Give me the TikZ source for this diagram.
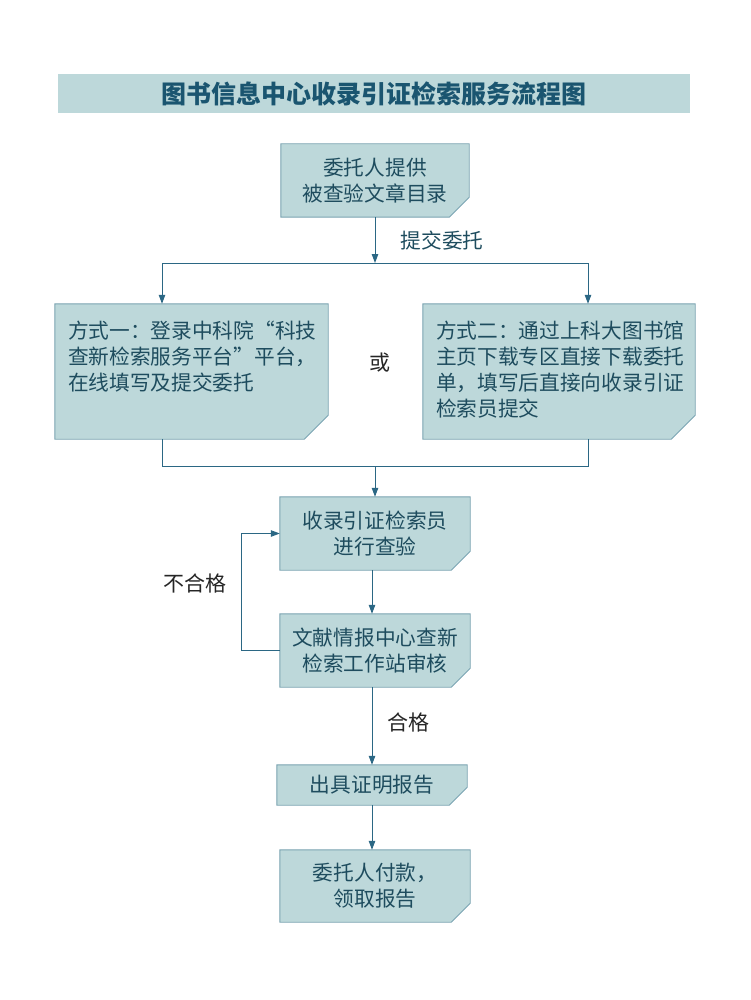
\documentclass[tikz,border=0pt]{standalone}
\usepackage{fontspec}
\newfontfamily\cjk{Noto Sans CJK SC}
\usetikzlibrary{arrows.meta,backgrounds}
\definecolor{boxfill}{HTML}{BDD8DA}
\definecolor{boxline}{HTML}{79A3B1}
\definecolor{linkc}{HTML}{2B6784}
\definecolor{txtc}{HTML}{1E4C5E}
\definecolor{titlec}{HTML}{1A5570}
\tikzset{
  boxtext/.style={font=\cjk\fontsize{20.7}{26}\selectfont, text=txtc, inner sep=0pt, align=center},
  boxnode/.style={boxtext, draw=none, fill=none},
  cutshape/.style={fill=boxfill, draw=boxline, line width=0.9pt},
  link/.style={draw=linkc, line width=1pt},
  arr/.style={link, -{Triangle[length=9pt,width=6.5pt]}},
  lbl/.style={font=\cjk\fontsize{21}{24}\selectfont, text=black!85, inner sep=0pt},
}
\newcommand\cutpoly[2]{% node name, chamfer
  \path[cutshape] (#1.north west) -- (#1.north east) -- ([yshift=#2]#1.south east)
    -- ([xshift=-#2]#1.south east) -- (#1.south west) -- cycle;}
\begin{document}
\begin{tikzpicture}[x=1pt,y=-1pt]
\useasboundingbox (0,0) rectangle (750,1000);
% title
\node[inner sep=0pt, minimum width=632pt, minimum height=39pt, fill=boxfill,
      font=\cjk\bfseries\fontsize{25}{28}\selectfont, text=titlec] (title) at (374,93.5)
      {图书信息中心收录引证检索服务流程图};
% boxes
\node[boxnode, minimum width=188pt, minimum height=73pt] (b1) at (375,180.5)
  {委托人提供\\被查验文章目录};
\node[boxnode, minimum width=273pt, minimum height=135pt] (L) at (191.5,371.5) {};
\node[boxtext, anchor=north west, align=left] (Lt) at ([xshift=13pt,yshift=-17pt]L.north west)
  {方式一：登录中科院“科技\\查新检索服务平台”平台，\\在线填写及提交委托};
\node[boxnode, minimum width=272pt, minimum height=135pt] (R) at (559,371.5) {};
\node[boxtext, anchor=north west, align=left] (Rt) at ([xshift=13pt,yshift=-17pt]R.north west)
  {方式二：通过上科大图书馆\\主页下载专区直接下载委托\\单，填写后直接向收录引证\\检索员提交};
\node[boxnode, minimum width=190pt, minimum height=73pt] (b3) at (375,533.5)
  {收录引证检索员\\进行查验};
\node[boxnode, minimum width=190pt, minimum height=73pt] (b4) at (375,650.5)
  {文献情报中心查新\\检索工作站审核};
\node[boxnode, minimum width=190pt, minimum height=40pt] (b5) at (372,785)
  {出具证明报告};
\node[boxnode, minimum width=190pt, minimum height=72pt] (b6) at (375,886)
  {委托人付款，\\领取报告};
% shapes behind
\begin{scope}[on background layer]
  \cutpoly{b1}{20pt}
  \cutpoly{L}{24pt}
  \cutpoly{R}{24pt}
  \cutpoly{b3}{19pt}
  \cutpoly{b4}{19pt}
  \cutpoly{b5}{18pt}
  \cutpoly{b6}{19pt}
\end{scope}
% labels
\node[boxtext] (tj) at (442,241) {提交委托};
\node[lbl] (huo) at (380,363) {或};
\node[lbl] (bhg) at (195,583) {不合格};
\node[lbl] (hg) at (408,722) {合格};
% coordinates
\coordinate (split) at (375,263);
\coordinate (sl) at (162,263);
\coordinate (sr) at (588,263);
\coordinate (jl) at (162,466);
\coordinate (jr) at (588,466);
\coordinate (jm) at (375,466);
\coordinate (mx) at (372,0);
\coordinate (fb) at (241,0);
% connectors
\draw[arr] (b1.south) -- (split);
\draw[link] (sl) -- (sr);
\draw[arr] (sl) -- (sl |- L.north);
\draw[arr] (sr) -- (sr |- R.north);
\draw[link] (jl |- L.south) -- (jl) -- (jr) -- (jr |- R.south);
\draw[arr] (jm) -- (jm |- b3.north);
\draw[arr] (b3.south -| mx) -- (b4.north -| mx);
\draw[arr] (b4.west) -| (fb |- b4.west) |- (b3.west);
\draw[arr] (b4.south -| mx) -- (b5.north -| mx);
\draw[arr] (b5.south -| mx) -- (b6.north -| mx);
\end{tikzpicture}
\end{document}
